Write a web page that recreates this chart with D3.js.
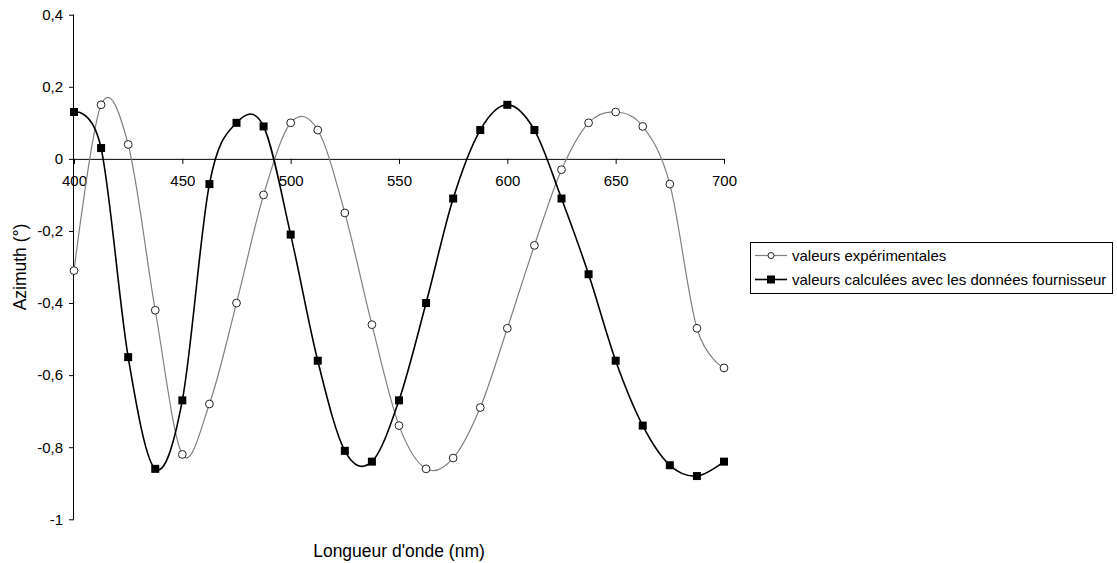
<!DOCTYPE html>
<html>
<head>
<meta charset="utf-8">
<script src="https://cdn.jsdelivr.net/npm/d3@7"></script>
<style>
  html, body { margin: 0; padding: 0; background: #fff; }
  svg { display: block; }
  text { font-family: Arial, "Liberation Sans", sans-serif; fill: #000; }
</style>
</head>
<body>
<svg id="chart" width="1117" height="563"></svg>
<script>
// ---- data ----
const wavelengths = [400, 412.5, 425, 437.5, 450, 462.5, 475, 487.5, 500, 512.5, 525, 537.5, 550,
                     562.5, 575, 587.5, 600, 612.5, 625, 637.5, 650, 662.5, 675, 687.5, 700];
const experimental = [-0.31, 0.15, 0.04, -0.42, -0.82, -0.68, -0.40, -0.10, 0.10, 0.08, -0.15, -0.46, -0.74,
                      -0.86, -0.83, -0.69, -0.47, -0.24, -0.03, 0.10, 0.13, 0.09, -0.07, -0.47, -0.58];
const calculated = [0.13, 0.03, -0.55, -0.86, -0.67, -0.07, 0.10, 0.09, -0.21, -0.56, -0.81, -0.84, -0.67,
                    -0.40, -0.11, 0.08, 0.15, 0.08, -0.11, -0.32, -0.56, -0.74, -0.85, -0.88, -0.84];
const seriesNames = ["valeurs expérimentales", "valeurs calculées avec les données fournisseur"];
const xTicks = [400, 450, 500, 550, 600, 650, 700];
const yTicks = [-1, -0.8, -0.6, -0.4, -0.2, 0, 0.2, 0.4];
const yTickLabels = ["-1", "-0,8", "-0,6", "-0,4", "-0,2", "0", "0,2", "0,4"];
const xTitle = "Longueur d'onde (nm)";
const yTitle = "Azimuth (°)";

// ---- layout ----
const FONT = "Arial, 'Liberation Sans', sans-serif";
const svg = d3.select("#chart");
const x = d3.scaleLinear().domain([400, 700]).range([74, 724]);
const y = d3.scaleLinear().domain([-1, 0.4]).range([519.3, 14.7]);

// y axis
const yAxis = d3.axisLeft(y).tickValues(yTicks).tickSize(5).tickPadding(6)
  .tickFormat((d, i) => yTickLabels[i]);
const gy = svg.append("g").attr("transform", `translate(${x(400)},0)`).call(yAxis);
gy.select(".domain").attr("stroke", "#000").attr("d", `M-0.5,${y(0.4)}V${y(-1)}`);
gy.selectAll(".tick line").attr("stroke", "#000");
gy.selectAll(".tick text").style("font-size", "15px").attr("font-family", FONT);

// x axis at y=0
const xAxis = d3.axisBottom(x).tickValues(xTicks).tickSize(5).tickPadding(11);
const gx = svg.append("g").attr("transform", `translate(0,${y(0)})`).call(xAxis);
gx.select(".domain").attr("stroke", "#000").attr("d", `M${x(400)},0.5H${x(700)}`);
gx.selectAll(".tick line").attr("stroke", "#000");
gx.selectAll(".tick text").style("font-size", "15px").attr("font-family", FONT);

// titles
svg.append("text").attr("x", (x(400) + x(700)) / 2).attr("y", 557)
  .attr("text-anchor", "middle").style("font-size", "17.5px").text(xTitle);
svg.append("text").attr("transform", `translate(26,${(y(0.4) + y(-1)) / 2}) rotate(-90)`)
  .attr("text-anchor", "middle").style("font-size", "17.5px").text(yTitle);

// lines
const curve = d3.curveCardinal.tension(0);
const expData = wavelengths.map((w, i) => [w, experimental[i]]);
const calData = wavelengths.map((w, i) => [w, calculated[i]]);
const line = d3.line().x(d => x(d[0])).y(d => y(d[1])).curve(curve);

svg.append("path").datum(expData).attr("d", line)
  .attr("fill", "none").attr("stroke", "#808080").attr("stroke-width", 1.2);
svg.append("path").datum(calData).attr("d", line)
  .attr("fill", "none").attr("stroke", "#000").attr("stroke-width", 1.6);

// markers
svg.append("g").selectAll("circle").data(expData).join("circle")
  .attr("cx", d => x(d[0])).attr("cy", d => y(d[1])).attr("r", 3.9)
  .attr("fill", "#fff").attr("stroke", "#222").attr("stroke-width", 1);
const sq = 8;
svg.append("g").selectAll("rect").data(calData).join("rect")
  .attr("x", d => x(d[0]) - sq / 2).attr("y", d => y(d[1]) - sq / 2)
  .attr("width", sq).attr("height", sq).attr("fill", "#000");

// legend
const lg = svg.append("g");
lg.append("rect").attr("x", 750.5).attr("y", 242.5).attr("width", 362).attr("height", 51)
  .attr("fill", "#fff").attr("stroke", "#000").attr("stroke-width", 1);
const rows = [255.5, 279.5];
// row 1
lg.append("line").attr("x1", 755).attr("x2", 787).attr("y1", rows[0]).attr("y2", rows[0])
  .attr("stroke", "#808080").attr("stroke-width", 1.2);
lg.append("circle").attr("cx", 771).attr("cy", rows[0]).attr("r", 3)
  .attr("fill", "#fff").attr("stroke", "#222");
lg.append("text").attr("x", 792).attr("y", rows[0]).attr("dy", "0.35em")
  .style("font-size", "15px").text(seriesNames[0]);
// row 2
lg.append("line").attr("x1", 755).attr("x2", 787).attr("y1", rows[1]).attr("y2", rows[1])
  .attr("stroke", "#000").attr("stroke-width", 1.6);
lg.append("rect").attr("x", 767).attr("y", rows[1] - 4).attr("width", 8).attr("height", 8).attr("fill", "#000");
lg.append("text").attr("x", 792).attr("y", rows[1]).attr("dy", "0.35em")
  .style("font-size", "15px").text(seriesNames[1]);
</script>
</body>
</html>
